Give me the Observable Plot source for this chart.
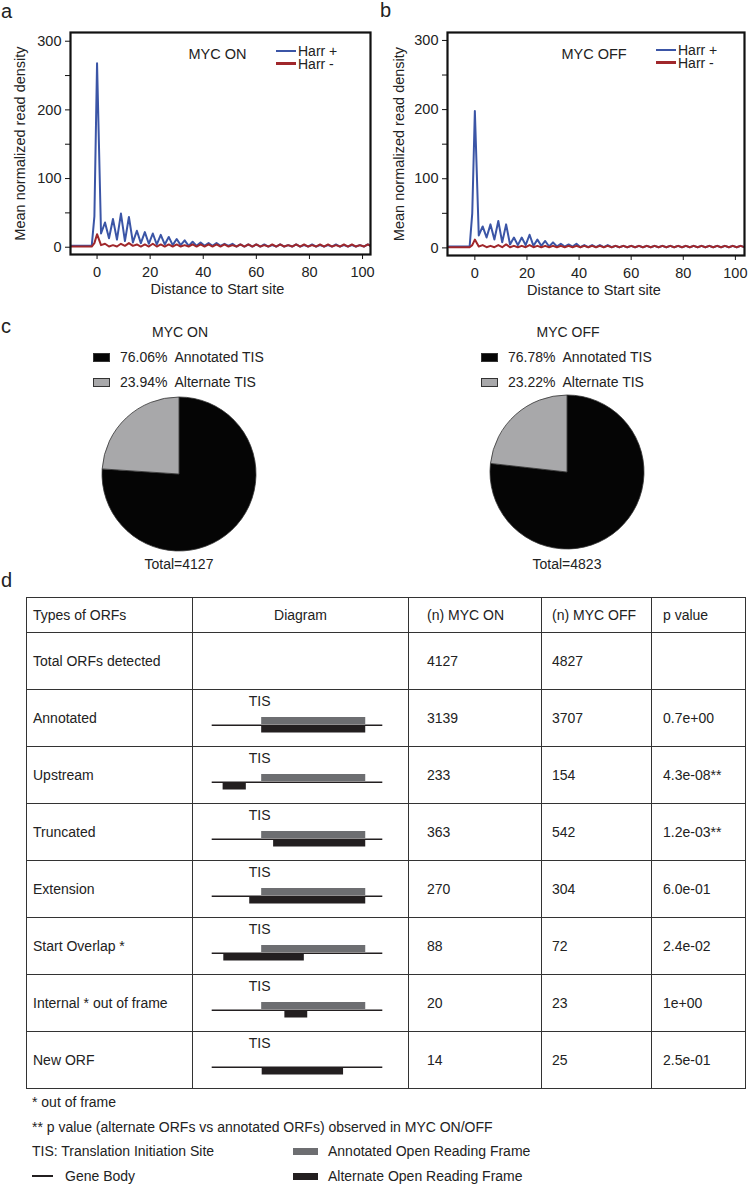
<!DOCTYPE html>
<html><head><meta charset="utf-8">
<script src="https://cdn.jsdelivr.net/npm/d3@7"></script>
<script src="https://cdn.jsdelivr.net/npm/@observablehq/plot@0.6"></script>
<style>
body{margin:0;background:#fff;}
#page{position:relative;width:748px;height:1185px;overflow:hidden;background:#fff;font-family:"Liberation Sans",Arial,Helvetica,sans-serif;color:#222;}
.abs{position:absolute;white-space:pre;}
.lbl{position:absolute;white-space:pre;line-height:16px;}
#orfTable{position:absolute;left:26px;top:597px;border-collapse:collapse;table-layout:fixed;font-size:14px;color:#222;}
#orfTable td{border:1.5px solid #333;padding:0;vertical-align:middle;white-space:pre;}
</style></head>
<body><div id="page"></div>
<script>
// ---------------- data ----------------
const leadPositions = [-10, -2, -1];
const gridPositions = d3.range(0, 104, 1.5);
const positions = leadPositions.concat(gridPositions);

const onHarrPlus = [2, 2, 45,
  268, 20, 36, 13, 41, 11, 49, 9, 44, 7,
  24, 6, 22, 5, 20, 4, 18, 4, 15, 3,
  12, 3, 10, 2, 8, 2, 7, 2, 6, 2,
  6, 2, 5, 2, 5, 1, 4, 1, 4, 1,
  4, 1, 4, 1, 3, 1, 4, 1, 3, 1,
  4, 1, 3, 1, 4, 1, 3, 1, 3, 1,
  4, 1, 3, 1, 3, 1, 3, 1, 4, 1];
const onHarrMinus = [1, 1, 6,
  19, 3, 5, 1, 3, 1, 5, 2, 6, 2,
  4, 1, 4, 1, 5, 1, 4, 1, 4, 1,
  4, 1, 3, 1, 4, 1, 4, 1, 4, 1,
  4, 1, 4, 1, 3, 1, 4, 1, 4, 1,
  4, 1, 3, 1, 4, 1, 4, 1, 3, 1,
  4, 1, 4, 1, 3, 1, 4, 1, 4, 1,
  3, 1, 4, 1, 4, 1, 3, 1, 4, 1];
const offHarrPlus = [2, 2, 50,
  198, 18, 31, 15, 34, 12, 39, 8, 34, 5,
  15, 4, 15, 4, 19, 3, 12, 3, 10, 2,
  8, 2, 6, 2, 5, 2, 6, 1, 4, 1,
  4, 1, 4, 1, 4, 1, 3, 1, 3, 1,
  3, 1, 3, 1, 3, 1, 3, 1, 3, 1,
  3, 1, 3, 1, 3, 1, 3, 1, 3, 1,
  3, 1, 3, 1, 3, 1, 3, 1, 3, 1];
const offHarrMinus = [1, 1, 4,
  12, 2, 4, 1, 3, 1, 4, 1, 5, 1,
  3, 1, 3, 1, 4, 1, 3, 1, 3, 1,
  3, 1, 3, 1, 3, 1, 3, 1, 3, 1,
  3, 1, 3, 1, 3, 1, 3, 1, 3, 1,
  3, 1, 3, 1, 3, 1, 3, 1, 3, 1,
  3, 1, 3, 1, 3, 1, 3, 1, 3, 1,
  3, 1, 3, 1, 3, 1, 3, 1, 3, 1];

const seriesNames = ["Harr +", "Harr -"];
const yTicks = [0, 50, 100, 150, 200, 250, 300];
const yTickLabels = [0, 100, 200, 300];
const xTicks = [0, 20, 40, 60, 80, 100];

const pieCategories = ["Annotated TIS", "Alternate TIS"];
const mycOnPercent = [76.06, 23.94];
const mycOffPercent = [76.78, 23.22];
const pieTotals = [4127, 4823];

const tableHeaders = ["Types of ORFs", "Diagram", "(n) MYC ON", "(n) MYC OFF", "p value"];
const orfTypes = ["Total ORFs detected", "Annotated", "Upstream", "Truncated", "Extension", "Start Overlap *", "Internal * out of frame", "New ORF"];
const nMycOn = [4127, 3139, 233, 363, 270, 88, 20, 14];
const nMycOff = [4827, 3707, 154, 542, 304, 72, 23, 25];
const pValues = ["", "0.7e+00", "4.3e-08**", "1.2e-03**", "6.0e-01", "2.4e-02", "1e+00", "2.5e-01"];
// diagram, gene-body coordinates (0–100), TIS at 29
const geneBody = [0, 100];
const tisPosition = 29;
const annotatedStart = [null, 29, 29, 29, 29, 29, 29, null];
const annotatedEnd   = [null, 90, 90, 90, 90, 90, 90, null];
const alternateStart = [null, 29, 6.4, 36, 22, 6.8, 42.6, 29.3];
const alternateEnd   = [null, 90, 20, 90, 90, 54, 56, 77];

const footnotes = ["* out of frame", "** p value (alternate ORFs vs annotated ORFs) observed in MYC ON/OFF", "TIS: Translation Initiation Site", "Gene Body"];
const orfLegend = ["Annotated Open Reading Frame", "Alternate Open Reading Frame"];

// ---------------- styles ----------------
const FONT = '"Liberation Sans", Arial, Helvetica, sans-serif';
const BLUE = "#3b55a6", RED = "#a0272b";
const ANN_GRAY = "#6d6e71", ALT_BLACK = "#231f20";
const page = document.getElementById("page");

function addLabel(text, x, yc, opts = {}) {
  const d = document.createElement("div");
  d.className = "lbl";
  d.textContent = text;
  const fs = opts.size || 14;
  const lh = opts.lh || (fs + 2);
  d.style.fontSize = fs + "px";
  d.style.lineHeight = lh + "px";
  d.style.top = (yc - lh / 2) + "px";
  if (opts.center) { d.style.left = (x - 200) + "px"; d.style.width = "400px"; d.style.textAlign = "center"; }
  else d.style.left = x + "px";
  page.appendChild(d);
  return d;
}
function addBox(x, y, w, h, style) {
  const d = document.createElement("div");
  d.className = "abs";
  Object.assign(d.style, {left: x + "px", top: y + "px", width: w + "px", height: h + "px", boxSizing: "border-box"}, style);
  page.appendChild(d);
}
function place(node, left, top) {
  node.style.position = "absolute";
  node.style.left = left + "px";
  node.style.top = top + "px";
  page.appendChild(node);
}

// ---------------- line charts ----------------
function lineChart({plus, minus, title, marginLeft, xDomain, yDomain, marginBottom, titleDx, ylabDx}) {
  const plusData = positions.map((x, i) => ({x, y: plus[i], s: seriesNames[0]}));
  const minusData = positions.map((x, i) => ({x, y: minus[i], s: seriesNames[1]}));
  return Plot.plot({
    width: 374, height: 300,
    marginTop: 32, marginBottom, marginLeft, marginRight: 4,
    x: {domain: xDomain},
    y: {domain: yDomain},
    style: {fontFamily: FONT, fontSize: "14.5px", color: "#222", background: "transparent", overflow: "visible"},
    marks: [
      Plot.line(plusData, {x: "x", y: "y", stroke: BLUE, strokeWidth: 2, clip: true}),
      Plot.line(minusData, {x: "x", y: "y", stroke: RED, strokeWidth: 2, clip: true}),
      Plot.axisY({ticks: yTicks, tickFormat: d => yTickLabels.includes(d) ? String(d) : "", tickSize: 5, tickPadding: 4, label: null, stroke: "#111"}),
      Plot.axisX({ticks: xTicks, tickSize: 5, tickPadding: 7, label: null, stroke: "#111"}),
      Plot.frame({stroke: "#111", strokeWidth: 2.2}),
      Plot.text([title], {frameAnchor: "top", dy: 16, dx: titleDx}),
      Plot.text(["Distance to Start site"], {frameAnchor: "bottom", dy: 39, dx: titleDx}),
      Plot.text(["Mean normalized read density"], {frameAnchor: "left", textAnchor: "middle", dx: ylabDx, rotate: -90})
    ]
  });
}
place(lineChart({plus: onHarrPlus, minus: onHarrMinus, title: "MYC ON", marginLeft: 70, marginBottom: 46,
  xDomain: [-10, 103], yDomain: [-10.6, 312.7], titleDx: -3, ylabDx: -50}), 0, 0);
place(lineChart({plus: offHarrPlus, minus: offHarrMinus, title: "MYC OFF", marginLeft: 73, marginBottom: 45,
  xDomain: [-10.5, 103.5], yDomain: [-11, 311.5], titleDx: -2, ylabDx: -48}), 374, 0);

// line legends
function lineLegend(x, y) {
  [BLUE, RED].forEach((c, i) => {
    addBox(x, y + i * 12.5 - 1.2, 20, 2.6, {background: c});
    addLabel(seriesNames[i], x + 22, y + i * 12.5, {size: 14, lh: 12});
  });
}
lineLegend(276, 51);
lineLegend(656, 50);

// panel letters
addLabel("a", 1, 11, {size: 20});
addLabel("b", 380, 10, {size: 20});
addLabel("c", 1, 326, {size: 20});
addLabel("d", 1, 580, {size: 20});

// ---------------- pies ----------------
function pieChart(percents) {
  const data = pieCategories.map((c, i) => ({c, v: percents[i]}));
  return Plot.plot({
    width: 170, height: 170, margin: 0,
    style: {background: "transparent", overflow: "visible"},
    color: {domain: pieCategories, range: ["#050505", "#a8a8aa"]},
    marks: [
      (index, scales, values, dims) => {
        const g = d3.create("svg:g").attr("transform", `translate(${dims.width / 2},${dims.height / 2})`);
        const arcs = d3.pie().sort(null).value(d => d.v)(data);
        const arc = d3.arc().innerRadius(0).outerRadius(77);
        g.selectAll("path").data(arcs).join("path")
          .attr("d", arc).attr("fill", d => scales.color(d.data.c))
          .attr("stroke", "#333").attr("stroke-width", 0.8);
        return g.node();
      }
    ]
  });
}
function piePanel(percents, title, total, cx, cy) {
  place(pieChart(percents), cx - 85, cy - 85);
  addLabel(title, cx + 1, 332, {center: true});
  const lx = cx - 86;
  pieCategories.forEach((c, i) => {
    const y = 357 + i * 25;
    addBox(lx, y - 4.5, 17, 9, {background: i === 0 ? "#050505" : "#a8a8aa", border: "1px solid #333"});
    addLabel(`${percents[i].toFixed(2)}%  ${c}`, lx + 27, y, {size: 14});
  });
  addLabel(`Total=${total}`, cx, 564, {center: true});
}
piePanel(mycOnPercent, "MYC ON", pieTotals[0], 179, 474);
piePanel(mycOffPercent, "MYC OFF", pieTotals[1], 567, 472);

// ---------------- table ----------------
const colWidths = [166, 216, 133, 110, 94];
const colPad = [6, 0, 18, 10, 11];
const tbl = d3.select(page).append("table").attr("id", "orfTable");
tbl.append("colgroup").selectAll("col").data(colWidths).join("col").style("width", d => d + "px");
const tb = tbl.append("tbody");
const hdr = tb.append("tr").style("height", "35px");
hdr.selectAll("td").data(tableHeaders).join("td")
  .text(d => d)
  .style("padding-left", (d, i) => colPad[i] + "px")
  .style("text-align", (d, i) => i === 1 ? "center" : "left");
orfTypes.forEach((t, r) => {
  const tr = tb.append("tr").style("height", "57px");
  [t, "", nMycOn[r], nMycOff[r], pValues[r]].forEach((v, i) => {
    tr.append("td").text(v).style("padding-left", colPad[i] + "px");
  });
});

// diagram column
const diagRows = orfTypes.map((type, i) => ({type, aS: annotatedStart[i], aE: annotatedEnd[i], bS: alternateStart[i], bE: alternateEnd[i]}))
  .filter(d => d.bS != null);
const diagram = Plot.plot({
  width: 216, height: 456,
  marginLeft: 19.7, marginRight: 25.7, marginTop: 0, marginBottom: 0,
  x: {domain: geneBody, axis: null},
  y: {type: "band", domain: orfTypes, padding: 0, axis: null},
  style: {fontFamily: FONT, fontSize: "14px", color: "#222", background: "transparent", overflow: "visible"},
  marks: [
    Plot.ruleY(diagRows, {y: "type", x1: geneBody[0], x2: geneBody[1], dy: 7.2, stroke: ALT_BLACK, strokeWidth: 1.5}),
    Plot.barX(diagRows.filter(d => d.aS != null), {x1: "aS", x2: "aE", y: "type", insetTop: 28, insetBottom: 22, fill: ANN_GRAY}),
    Plot.barX(diagRows, {x1: "bS", x2: "bE", y: "type", insetTop: 36, insetBottom: 13.5, fill: ALT_BLACK}),
    Plot.ruleX(diagRows, {x: tisPosition, y: "type", insetTop: 23, insetBottom: 21, stroke: ALT_BLACK, strokeWidth: 1.5}),
    Plot.text(diagRows, {x: tisPosition, y: "type", text: () => "TIS", dy: -16, dx: -2})
  ]
});
place(diagram, 192, 632);

// ---------------- footer ----------------
addLabel(footnotes[0], 32, 1102, {size: 14});
addLabel(footnotes[1], 32, 1127, {size: 14});
addLabel(footnotes[2], 32, 1151, {size: 14});
addBox(32, 1175.3, 21, 1.5, {background: ALT_BLACK});
addLabel(footnotes[3], 65, 1176, {size: 14});
addBox(293, 1147.5, 25, 7, {background: ANN_GRAY});
addLabel(orfLegend[0], 328, 1151, {size: 14});
addBox(293, 1172.5, 25, 7, {background: ALT_BLACK});
addLabel(orfLegend[1], 328, 1176, {size: 14});
</script>
</body></html>
